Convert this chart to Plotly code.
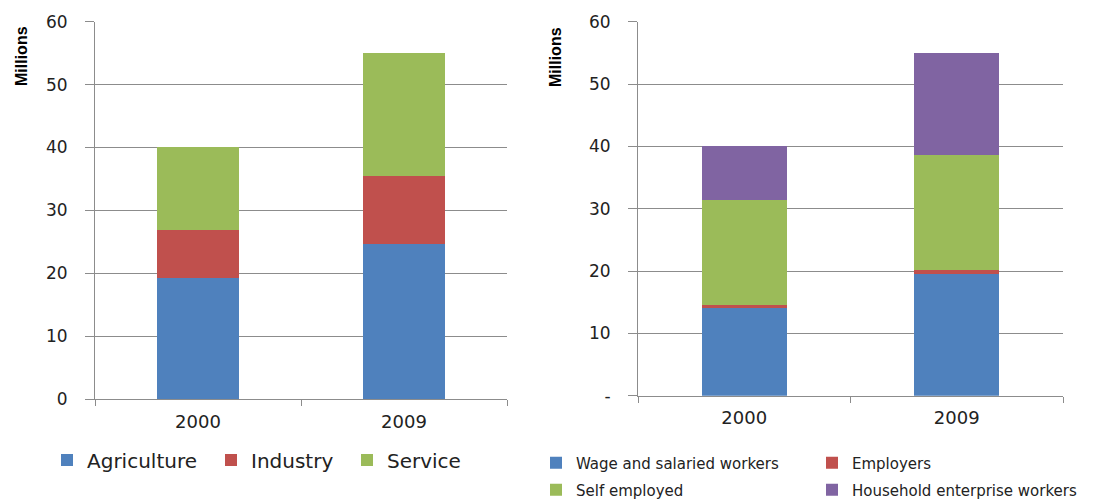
import plotly.graph_objects as go

# Employment by sector (left panel), millions
years = ["2000", "2009"]
agriculture = [19.2, 24.7]
industry = [7.7, 10.8]
service = [13.1, 19.5]

# Employment by status (right panel), millions
wage_salaried = [14.2, 19.6]
employers = [0.3, 0.6]
self_employed = [16.9, 18.4]
household = [8.6, 16.4]

y_ticks = [0, 10, 20, 30, 40, 50, 60]
left_tick_text = ["0", "10", "20", "30", "40", "50", "60"]
right_tick_text = ["-", "10", "20", "30", "40", "50", "60"]

BLUE = "#4F81BD"
RED = "#C0504D"
GREEN = "#9BBB59"
PURPLE = "#8064A2"
GRID = "#8C8C8C"
TEXT = "#222222"
FONT = "DejaVu Sans"

W, H = 1105, 499


def px_x(v):
    return v / W


def px_y(v):
    return 1 - v / H


fig = go.Figure()

# left panel: each legend entry gets its own legend box so it sits at its own x
left_series = [("Agriculture", agriculture, BLUE, "legend", 47),
               ("Industry", industry, RED, "legend4", 211),
               ("Service", service, GREEN, "legend5", 347)]
for name, vals, col, lg, _ in left_series:
    fig.add_trace(go.Bar(x=years, y=vals, name=name, marker_color=col,
                         marker_line_width=0, xaxis="x", yaxis="y",
                         legend=lg, showlegend=True))

right_series = [("Wage and salaried workers", wage_salaried, BLUE, "legend2"),
                ("Employers", employers, RED, "legend2"),
                ("Self employed", self_employed, GREEN, "legend3"),
                ("Household enterprise workers", household, PURPLE, "legend3")]
for name, vals, col, lg in right_series:
    fig.add_trace(go.Bar(x=years, y=vals, name=name, marker_color=col,
                         marker_line_width=0, xaxis="x2", yaxis="y2",
                         legend=lg, showlegend=True))

xaxis_common = dict(type="category", showline=True, linecolor=GRID, linewidth=1,
                    ticks="outside", tickson="boundaries", ticklen=6,
                    tickcolor=GRID, showgrid=False,
                    tickfont=dict(family=FONT, size=18, color=TEXT),
                    ticklabelstandoff=6)
yaxis_common = dict(range=[0, 60], tickvals=y_ticks, showline=True,
                    linecolor=GRID, linewidth=1, showgrid=True,
                    gridcolor=GRID, gridwidth=1, ticks="outside", ticklen=9,
                    tickcolor=GRID, zeroline=False,
                    tickfont=dict(family=FONT, size=17, color=TEXT),
                    ticklabelstandoff=14)

legend_common = dict(orientation="h", bgcolor="rgba(0,0,0,0)",
                     yanchor="middle", xanchor="left", traceorder="normal",
                     visible=True)

left_legend_font = dict(family=FONT, size=20, color=TEXT)
right_legend_font = dict(family=FONT, size=15, color=TEXT)

layout_legends = {}
for _, _, _, lg, lx in left_series:
    layout_legends[lg] = dict(x=px_x(lx), y=px_y(460), font=left_legend_font,
                              **legend_common)
layout_legends["legend2"] = dict(x=px_x(536), y=px_y(463), entrywidth=231,
                                 font=right_legend_font, **legend_common)
layout_legends["legend3"] = dict(x=px_x(536), y=px_y(490), entrywidth=231,
                                 font=right_legend_font, **legend_common)

axis_title_font = dict(family="Liberation Sans", size=16, color="#000000")

fig.update_layout(
    width=W, height=H,
    showlegend=True,
    margin=dict(l=0, r=0, t=0, b=0, autoexpand=False),
    paper_bgcolor="white", plot_bgcolor="white",
    barmode="stack", bargap=0.6,
    xaxis=dict(domain=[px_x(95), px_x(507)], anchor="y", **xaxis_common),
    yaxis=dict(domain=[px_y(399), px_y(21.7)], anchor="x",
               ticktext=left_tick_text, **yaxis_common),
    xaxis2=dict(domain=[px_x(638), px_x(1063)], anchor="y2", **xaxis_common),
    yaxis2=dict(domain=[px_y(395.7), px_y(21.7)], anchor="x2",
                ticktext=right_tick_text, **yaxis_common),
    annotations=[
        dict(text="<b>Millions</b>", x=px_x(21), y=px_y(56), xref="paper",
             yref="paper", xanchor="center", yanchor="middle", textangle=-90,
             showarrow=False, font=axis_title_font),
        dict(text="<b>Millions</b>", x=px_x(555), y=px_y(57), xref="paper",
             yref="paper", xanchor="center", yanchor="middle", textangle=-90,
             showarrow=False, font=axis_title_font),
    ],
    **layout_legends,
)

fig.write_html("out.html")
